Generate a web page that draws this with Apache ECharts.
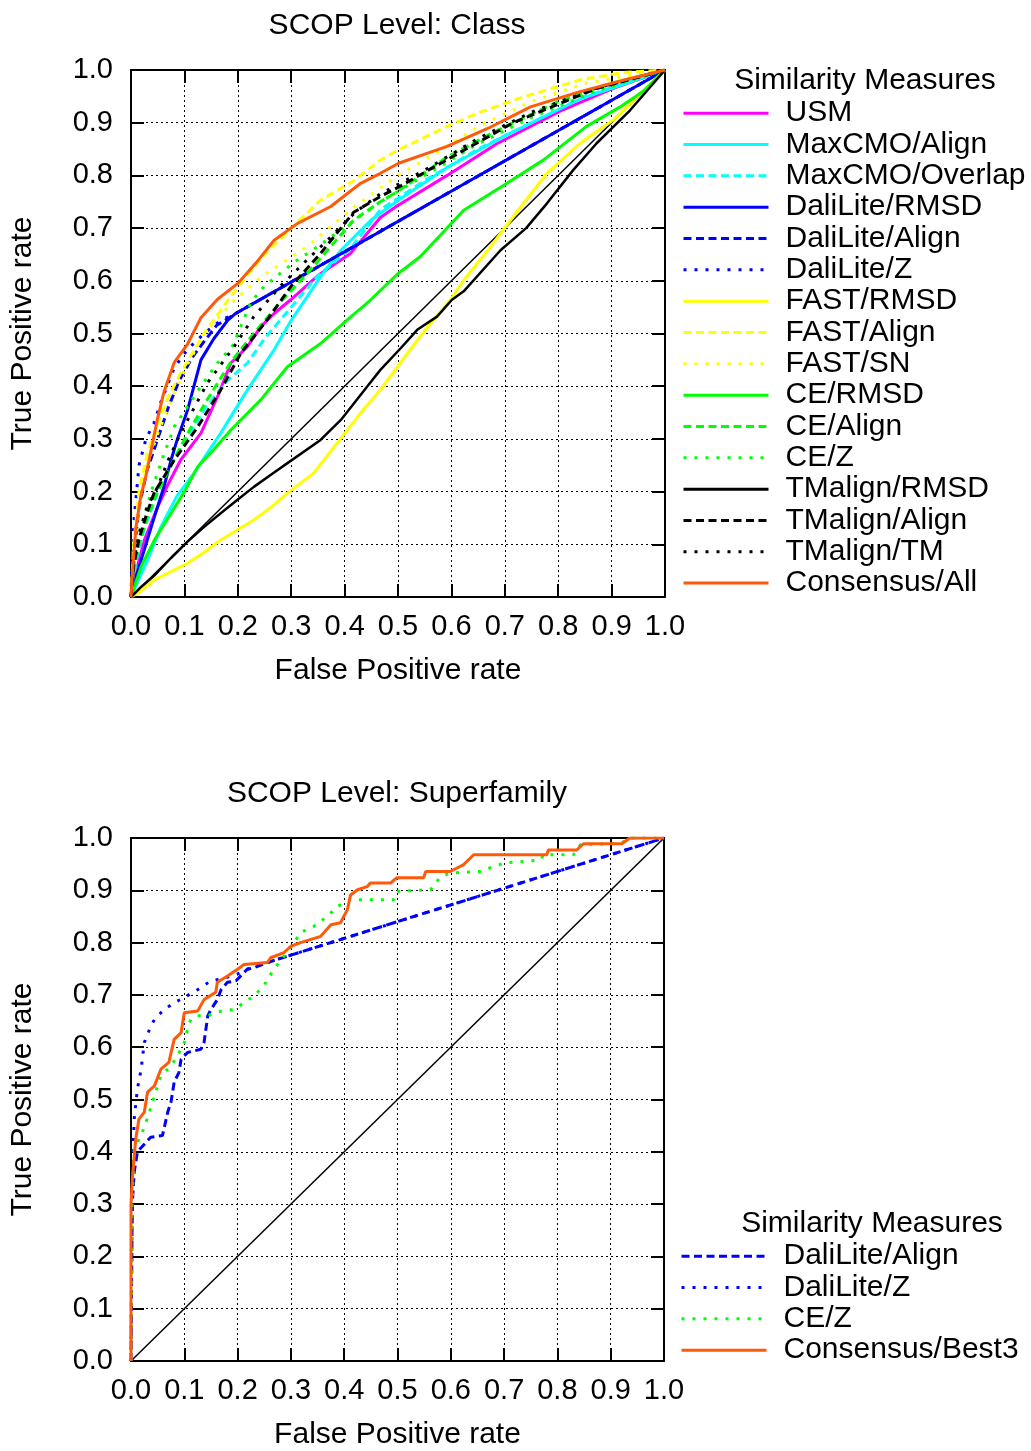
<!DOCTYPE html>
<html>
<head>
<meta charset="utf-8">
<script src="https://cdn.jsdelivr.net/npm/echarts@6/dist/echarts.min.js"></script>
<style>
  html, body { margin: 0; padding: 0; background: #fff; }
  #chart { width: 1031px; height: 1451px; }
</style>
</head>
<body>
<div id="chart"></div>
<script>
// ---- data: [false positive rate, true positive rate] ----
// SCOP level: Class
const usm = [[0,0],[0.01,0.05],[0.025,0.108],[0.05,0.171],[0.07,0.215],[0.093,0.26],[0.131,0.311],[0.162,0.38],[0.187,0.444],[0.218,0.475],[0.243,0.513],[0.268,0.538],[0.299,0.564],[0.35,0.61],[0.411,0.652],[0.467,0.72],[0.498,0.742],[0.592,0.8],[0.685,0.86],[0.81,0.925],[0.903,0.965],[1,1]];
const maxcmoAlign = [[0,0],[0.015,0.035],[0.031,0.07],[0.056,0.133],[0.085,0.19],[0.118,0.235],[0.168,0.311],[0.218,0.393],[0.268,0.469],[0.3,0.525],[0.33,0.57],[0.355,0.608],[0.393,0.658],[0.449,0.715],[0.505,0.756],[0.592,0.815],[0.7,0.875],[0.841,0.945],[1,1]];
const maxcmoOverlap = [[0,0],[0.01,0.07],[0.025,0.13],[0.05,0.2],[0.08,0.26],[0.11,0.31],[0.14,0.36],[0.18,0.41],[0.218,0.444],[0.25,0.49],[0.3,0.55],[0.35,0.61],[0.41,0.66],[0.467,0.735],[0.55,0.79],[0.65,0.85],[0.75,0.9],[0.85,0.95],[1,1]];
const daliRmsd = [[0,0],[0.01,0.04],[0.019,0.07],[0.04,0.14],[0.062,0.21],[0.075,0.26],[0.087,0.3],[0.106,0.355],[0.131,0.45],[0.155,0.49],[0.181,0.525],[0.196,0.538],[1,1]];
const daliAlign = [[0,0],[0.005,0.08],[0.015,0.17],[0.03,0.24],[0.05,0.3],[0.07,0.36],[0.09,0.41],[0.115,0.455],[0.137,0.485],[0.16,0.515],[0.196,0.538],[1,1]];
const daliZ = [[0,0],[0.003,0.1],[0.006,0.15],[0.015,0.25],[0.028,0.3],[0.043,0.33],[0.056,0.37],[0.081,0.435],[0.106,0.47],[0.137,0.5],[0.168,0.525],[0.196,0.538],[1,1]];
const fastRmsd = [[0,0],[0.02,0.012],[0.043,0.032],[0.075,0.048],[0.106,0.064],[0.137,0.085],[0.168,0.108],[0.2,0.128],[0.23,0.146],[0.262,0.17],[0.293,0.197],[0.342,0.235],[0.386,0.292],[0.43,0.349],[0.467,0.393],[0.505,0.445],[0.548,0.503],[0.598,0.564],[0.623,0.601],[0.67,0.66],[0.716,0.722],[0.779,0.804],[0.841,0.861],[0.903,0.905],[0.966,0.968],[1,1]];
const fastAlign = [[0,0],[0.005,0.1],[0.015,0.2],[0.03,0.27],[0.05,0.33],[0.07,0.38],[0.093,0.425],[0.137,0.5],[0.19,0.575],[0.25,0.65],[0.3,0.7],[0.355,0.753],[0.417,0.79],[0.467,0.829],[0.5,0.848],[0.592,0.893],[0.654,0.92],[0.735,0.949],[0.84,0.981],[0.92,0.995],[1,1]];
const fastSn = [[0,0],[0.005,0.08],[0.015,0.17],[0.03,0.25],[0.05,0.31],[0.07,0.36],[0.1,0.43],[0.137,0.5],[0.19,0.56],[0.243,0.607],[0.33,0.665],[0.417,0.74],[0.5,0.8],[0.567,0.84],[0.654,0.895],[0.75,0.94],[0.85,0.975],[1,1]];
const ceRmsd = [[0,0],[0.019,0.058],[0.045,0.11],[0.075,0.159],[0.1,0.2],[0.125,0.247],[0.155,0.28],[0.187,0.317],[0.243,0.374],[0.293,0.437],[0.355,0.481],[0.405,0.526],[0.449,0.564],[0.498,0.612],[0.542,0.646],[0.623,0.734],[0.704,0.785],[0.772,0.829],[0.853,0.893],[0.916,0.93],[0.96,0.96],[1,1]];
const ceAlign = [[0,0],[0.005,0.05],[0.015,0.1],[0.03,0.15],[0.05,0.2],[0.08,0.26],[0.106,0.31],[0.14,0.37],[0.187,0.446],[0.23,0.5],[0.28,0.56],[0.33,0.614],[0.417,0.715],[0.467,0.75],[0.5,0.77],[0.592,0.835],[0.685,0.885],[0.8,0.94],[0.9,0.975],[1,1]];
const ceZ = [[0,0],[0.005,0.06],[0.015,0.12],[0.037,0.197],[0.062,0.272],[0.081,0.323],[0.105,0.36],[0.131,0.4],[0.162,0.444],[0.193,0.48],[0.2,0.5],[0.225,0.56],[0.25,0.59],[0.305,0.635],[0.35,0.665],[0.405,0.705],[0.467,0.75],[0.55,0.8],[0.65,0.86],[0.75,0.91],[0.87,0.96],[1,1]];
const tmRmsd = [[0,0],[0.02,0.02],[0.043,0.04],[0.075,0.074],[0.106,0.105],[0.137,0.133],[0.168,0.159],[0.2,0.185],[0.23,0.209],[0.262,0.232],[0.293,0.254],[0.355,0.298],[0.393,0.336],[0.442,0.399],[0.467,0.431],[0.505,0.472],[0.536,0.507],[0.573,0.532],[0.601,0.564],[0.623,0.58],[0.692,0.658],[0.74,0.7],[0.779,0.747],[0.828,0.81],[0.872,0.861],[0.935,0.924],[1,1]];
const tmAlign = [[0,0],[0.005,0.06],[0.015,0.11],[0.03,0.16],[0.043,0.197],[0.081,0.26],[0.125,0.323],[0.168,0.393],[0.206,0.463],[0.255,0.526],[0.3,0.59],[0.355,0.652],[0.417,0.73],[0.467,0.76],[0.505,0.78],[0.592,0.83],[0.716,0.9],[0.872,0.965],[1,1]];
const tmTm = [[0,0],[0.005,0.07],[0.015,0.12],[0.03,0.17],[0.05,0.209],[0.07,0.26],[0.093,0.311],[0.143,0.406],[0.193,0.475],[0.23,0.532],[0.28,0.59],[0.33,0.64],[0.368,0.677],[0.42,0.73],[0.467,0.765],[0.55,0.81],[0.65,0.87],[0.75,0.92],[0.87,0.965],[1,1]];
const consensusAll = [[0,0],[0.003,0.05],[0.009,0.13],[0.018,0.19],[0.028,0.23],[0.04,0.29],[0.05,0.34],[0.062,0.39],[0.081,0.445],[0.106,0.48],[0.131,0.53],[0.162,0.565],[0.2,0.595],[0.235,0.635],[0.268,0.677],[0.312,0.709],[0.374,0.741],[0.43,0.785],[0.467,0.804],[0.501,0.823],[0.592,0.855],[0.67,0.89],[0.748,0.93],[0.841,0.959],[0.92,0.98],[1,1]];

// SCOP level: Superfamily
const sfDaliAlign = [[0,0],[0.002,0.25],[0.003,0.31],[0.006,0.361],[0.012,0.4],[0.037,0.428],[0.059,0.431],[0.069,0.476],[0.075,0.495],[0.081,0.533],[0.09,0.552],[0.094,0.577],[0.106,0.59],[0.131,0.596],[0.137,0.609],[0.144,0.66],[0.15,0.672],[0.162,0.691],[0.169,0.71],[0.181,0.724],[0.197,0.727],[0.218,0.749],[0.231,0.752],[0.256,0.762],[1,1]];
const sfDaliZ = [[0,0],[0.002,0.3],[0.004,0.4],[0.006,0.463],[0.012,0.52],[0.019,0.558],[0.025,0.609],[0.037,0.64],[0.044,0.653],[0.062,0.672],[0.081,0.685],[0.1,0.695],[0.125,0.71],[0.15,0.727],[0.169,0.73],[0.2,0.74],[0.218,0.749],[0.243,0.758],[0.256,0.762],[1,1]];
const sfCeZ = [[0,0],[0.002,0.3],[0.006,0.406],[0.019,0.431],[0.031,0.465],[0.044,0.507],[0.056,0.545],[0.075,0.564],[0.087,0.583],[0.1,0.609],[0.106,0.634],[0.112,0.653],[0.125,0.66],[0.144,0.66],[0.169,0.669],[0.193,0.672],[0.212,0.685],[0.231,0.698],[0.249,0.717],[0.268,0.749],[0.287,0.774],[0.306,0.8],[0.318,0.819],[0.343,0.831],[0.368,0.85],[0.387,0.869],[0.412,0.882],[0.493,0.882],[0.499,0.898],[0.562,0.901],[0.581,0.926],[0.599,0.933],[0.655,0.936],[0.699,0.952],[0.768,0.958],[0.774,0.968],[0.83,0.968],[0.843,0.987],[0.92,0.99],[0.935,1],[1,1]];
const sfConsensus = [[0,0],[0,0.3],[0.003,0.355],[0.006,0.39],[0.009,0.425],[0.015,0.463],[0.025,0.476],[0.031,0.514],[0.044,0.526],[0.056,0.558],[0.071,0.571],[0.081,0.615],[0.094,0.628],[0.1,0.666],[0.125,0.669],[0.137,0.691],[0.159,0.705],[0.162,0.724],[0.181,0.736],[0.2,0.749],[0.212,0.758],[0.256,0.762],[0.262,0.771],[0.287,0.781],[0.3,0.793],[0.318,0.8],[0.356,0.812],[0.375,0.834],[0.393,0.838],[0.406,0.863],[0.412,0.891],[0.425,0.901],[0.443,0.907],[0.449,0.914],[0.487,0.914],[0.499,0.924],[0.549,0.924],[0.553,0.936],[0.599,0.936],[0.624,0.949],[0.643,0.968],[0.78,0.968],[0.783,0.977],[0.836,0.977],[0.849,0.989],[0.921,0.989],[0.936,1],[1,1]];

const diagonal = [[0,0],[1,1]];

const FONT = '"Liberation Sans", Arial, sans-serif';
const DASHED = [8, 4.5];
const DOTTED = [3, 8];

const chart = echarts.init(document.getElementById('chart'), null, { renderer: 'canvas' });

const topCurves = [
  { name: 'USM', data: usm, color: '#ff00ff', dash: 'solid' },
  { name: 'MaxCMO/Align', data: maxcmoAlign, color: '#00ffff', dash: 'solid' },
  { name: 'MaxCMO/Overlap', data: maxcmoOverlap, color: '#00ffff', dash: DASHED },
  { name: 'DaliLite/RMSD', data: daliRmsd, color: '#0000ff', dash: 'solid' },
  { name: 'DaliLite/Align', data: daliAlign, color: '#0000ff', dash: DASHED },
  { name: 'DaliLite/Z', data: daliZ, color: '#0000ff', dash: DOTTED },
  { name: 'FAST/RMSD', data: fastRmsd, color: '#ffff00', dash: 'solid' },
  { name: 'FAST/Align', data: fastAlign, color: '#ffff00', dash: DASHED },
  { name: 'FAST/SN', data: fastSn, color: '#ffff00', dash: DOTTED },
  { name: 'CE/RMSD', data: ceRmsd, color: '#00ff00', dash: 'solid' },
  { name: 'CE/Align', data: ceAlign, color: '#00ff00', dash: DASHED },
  { name: 'CE/Z', data: ceZ, color: '#00ff00', dash: DOTTED },
  { name: 'TMalign/RMSD', data: tmRmsd, color: '#000000', dash: 'solid' },
  { name: 'TMalign/Align', data: tmAlign, color: '#000000', dash: DASHED },
  { name: 'TMalign/TM', data: tmTm, color: '#000000', dash: DOTTED },
  { name: 'Consensus/All', data: consensusAll, color: '#ff5a0a', dash: 'solid' }
];

const bottomCurves = [
  { name: 'DaliLite/Align', data: sfDaliAlign, color: '#0000ff', dash: DASHED },
  { name: 'DaliLite/Z', data: sfDaliZ, color: '#0000ff', dash: DOTTED },
  { name: 'CE/Z', data: sfCeZ, color: '#00ff00', dash: DOTTED },
  { name: 'Consensus/Best3', data: sfConsensus, color: '#ff5a0a', dash: 'solid' }
];

const grids = [
  { left: 130, top: 70, width: 535, height: 527 },
  { left: 130, top: 838, width: 534, height: 525 }
];

function fmt(v) { return v.toFixed(1); }

const xAxes = [];
const yAxes = [];
grids.forEach((g, i) => {
  // bottom / left axes carry labels and the dotted grid
  xAxes.push({
    type: 'value', gridIndex: i, min: 0, max: 1, interval: 0.1, position: 'bottom',
    name: 'False Positive rate', nameLocation: 'middle', nameGap: 59,
    nameTextStyle: { fontFamily: FONT, fontSize: 30, color: '#000' },
    axisLine: { show: true, onZero: false, lineStyle: { color: '#000', width: 2 } },
    axisTick: { show: true, inside: true, length: 13, lineStyle: { color: '#000', width: 2 } },
    axisLabel: { formatter: fmt, fontFamily: FONT, fontSize: 29, color: '#000', margin: 15 },
    splitLine: { show: true, lineStyle: { color: '#000', width: 1, type: [2, 3] } }
  });
  xAxes.push({
    type: 'value', gridIndex: i, min: 0, max: 1, interval: 0.1, position: 'top',
    axisLine: { show: true, onZero: false, lineStyle: { color: '#000', width: 2 } },
    axisTick: { show: true, inside: true, length: 13, lineStyle: { color: '#000', width: 2 } },
    axisLabel: { show: false }, splitLine: { show: false }
  });
  yAxes.push({
    type: 'value', gridIndex: i, min: 0, max: 1, interval: 0.1, position: 'left',
    name: 'True Positive rate', nameLocation: 'middle', nameGap: 93, nameRotate: 90,
    nameTextStyle: { fontFamily: FONT, fontSize: 30, color: '#000' },
    axisLine: { show: true, onZero: false, lineStyle: { color: '#000', width: 2 } },
    axisTick: { show: true, inside: true, length: 13, lineStyle: { color: '#000', width: 2 } },
    axisLabel: { formatter: fmt, fontFamily: FONT, fontSize: 29, color: '#000', margin: 18 },
    splitLine: { show: true, lineStyle: { color: '#000', width: 1, type: [2, 3] } }
  });
  yAxes.push({
    type: 'value', gridIndex: i, min: 0, max: 1, interval: 0.1, position: 'right',
    axisLine: { show: true, onZero: false, lineStyle: { color: '#000', width: 2 } },
    axisTick: { show: true, inside: true, length: 13, lineStyle: { color: '#000', width: 2 } },
    axisLabel: { show: false }, splitLine: { show: false }
  });
});

function makeSeries(c, i) {
  return {
    name: c.name, type: 'line', xAxisIndex: i * 2, yAxisIndex: i * 2,
    data: c.data, showSymbol: false, symbol: 'none', silent: true, animation: false,
    color: c.color,
    lineStyle: { color: c.color, width: c.name === 'TMalign/RMSD' ? 2.5 : 3, type: c.dash },
    z: 3
  };
}

const series = [];
[0, 1].forEach(i => {
  series.push({
    type: 'line', xAxisIndex: i * 2, yAxisIndex: i * 2, data: diagonal,
    symbol: 'none', silent: true, animation: false,
    lineStyle: { color: '#000', width: 1.5 }, z: 2
  });
});
topCurves.forEach(c => series.push(makeSeries(c, 0)));
bottomCurves.forEach(c => series.push(makeSeries(c, 1)));

const legendText = {
  fontFamily: FONT, fontSize: 30, color: '#000', lineHeight: 31.33, padding: [0, 0, 0, 12]
};

const legendCommon = {
  orient: 'vertical', padding: 0, itemWidth: 85, itemHeight: 12, itemGap: 0,
  selectedMode: false, itemStyle: { opacity: 0 }, lineStyle: { width: 3 },
  textStyle: legendText
};

const option = {
  backgroundColor: '#fff',
  animation: false,
  grid: grids,
  xAxis: xAxes,
  yAxis: yAxes,
  legend: [
    Object.assign({ data: topCurves.map(c => c.name), left: 682, top: 97.5 }, legendCommon),
    Object.assign({ data: bottomCurves.map(c => c.name), left: 680, top: 1240.5 }, legendCommon)
  ],
  graphic: [
    { type: 'text', x: 397, y: 26, style: { text: 'SCOP Level: Class', font: '30px ' + FONT, fill: '#000', textAlign: 'center', textVerticalAlign: 'middle' } },
    { type: 'text', x: 397, y: 794, style: { text: 'SCOP Level: Superfamily', font: '30px ' + FONT, fill: '#000', textAlign: 'center', textVerticalAlign: 'middle' } },
    { type: 'text', x: 865, y: 81, style: { text: 'Similarity Measures', font: '30px ' + FONT, fill: '#000', textAlign: 'center', textVerticalAlign: 'middle' } },
    { type: 'text', x: 872, y: 1224, style: { text: 'Similarity Measures', font: '30px ' + FONT, fill: '#000', textAlign: 'center', textVerticalAlign: 'middle' } }
  ],
  series: series
};

chart.setOption(option);
</script>
</body>
</html>
